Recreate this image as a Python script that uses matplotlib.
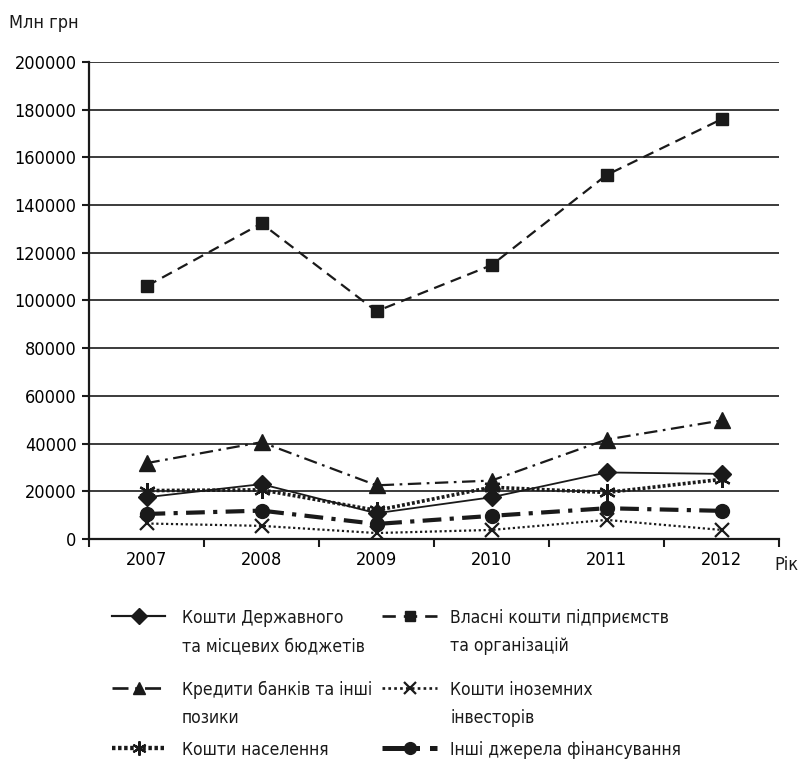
import matplotlib
matplotlib.use("Agg")
import matplotlib.pyplot as plt
from matplotlib import font_manager
from matplotlib.lines import Line2D

# data
years = ['2007', '2008', '2009', '2010', '2011', '2012']
state_budget = [17500, 23000, 10800, 17500, 27900, 27300]
own_funds = [106000, 132300, 95500, 114800, 152600, 176000]
bank_credits = [31800, 40600, 22500, 24500, 41700, 49700]
foreign_inv = [6500, 5500, 2500, 3800, 8000, 3800]
population = [20300, 20600, 12000, 21700, 19500, 25000]
other_sources = [10500, 11900, 6300, 9700, 12900, 11800]

labels = ['Кошти Державного\nта місцевих бюджетів',
          'Власні кошти підприємств\nта організацій',
          'Кредити банків та інші\nпозики',
          'Кошти іноземних\nінвесторів',
          'Кошти населення',
          'Інші джерела фінансування']


def pick_narrow_font():
    # the original uses a condensed face; look for any narrow regular font
    found = []
    for f in font_manager.fontManager.ttflist:
        fn = f.fname.lower()
        narrow = 'narrow' in fn or 'condensed' in fn or f.stretch in ('condensed', 'semi-condensed')
        if not narrow or f.style != 'normal':
            continue
        if 'semi' in fn or 'extra' in fn or 'ultra' in fn:
            continue
        if f.weight not in (400, 'normal', 'regular', 'book'):
            continue
        found.append(f)
    order = ['liberationsansnarrow', 'dejavusanscondensed', 'notosans', 'roboto', 'opensans']
    for key in order:
        for f in found:
            if key in f.fname.lower().replace('-', '').replace('_', ''):
                return font_manager.FontProperties(fname=f.fname)
    if found:
        return font_manager.FontProperties(fname=found[0].fname)
    return None


fp = pick_narrow_font()
if fp is None:
    plt.rcParams['font.family'] = ['Liberation Sans', 'DejaVu Sans']
    tick_size, text_size = 12.5, 12
else:
    tick_size, text_size = 13, 12.5


def tfont(size):
    if fp is None:
        return dict(fontsize=size)
    p = fp.copy()
    p.set_size(size)
    return dict(fontproperties=p)


ink = '#1a1a1a'
styles = [
    dict(ls='-', lw=1.3, marker='D', ms=9),
    dict(ls=(0, (5, 3)), lw=1.6, marker='s', ms=9),
    dict(ls=(0, (6, 2.5, 1.2, 2.5)), lw=1.6, marker='^', ms=11),
    dict(ls=(0, (1, 1.2)), lw=1.6, marker='x', ms=10, mew=1.6),
    dict(ls=(0, (0.8, 0.6)), lw=2.6, marker=(6, 2, 0), ms=12, mew=1.6),
    dict(ls=(0, (4.5, 2, 1, 2)), lw=3.0, marker='o', ms=10),
]
series = [state_budget, own_funds, bank_credits, foreign_inv, population, other_sources]

fig = plt.figure(figsize=(8, 7.68), dpi=100)
ax = fig.add_axes([0.11125, 0.29818, 0.8625, 0.62109])

x = list(range(len(years)))
for vals, st in zip(series, styles):
    ax.plot(x, vals, color=ink, mfc=ink, mec=ink, **st)

ax.set_ylim(0, 200000)
ax.set_xlim(-0.5, 5.5)
ax.set_yticks(range(0, 200001, 20000))
ax.set_yticklabels([str(v) for v in range(0, 200001, 20000)], **tfont(tick_size))
for v in range(20000, 200001, 20000):
    ax.axhline(v, color=ink, lw=1.2, zorder=0)

ax.set_xticks([i - 0.5 for i in range(len(years) + 1)])
ax.set_xticklabels([''] * (len(years) + 1))
ax.set_xticks(x, minor=True)
ax.set_xticklabels(years, minor=True, **tfont(tick_size))
ax.tick_params(axis='x', which='major', direction='out', length=6, width=1.5, color=ink)
ax.tick_params(axis='x', which='minor', length=0, pad=9)
ax.tick_params(axis='y', direction='out', length=5, width=1.5, color=ink, pad=4)

for s in ['top', 'right']:
    ax.spines[s].set_visible(False)
for s in ['left', 'bottom']:
    ax.spines[s].set_linewidth(1.6)
    ax.spines[s].set_color(ink)

fig.text(9 / 800, 1 - 23 / 768, 'Млн грн', va='center', ha='left', color=ink, **tfont(tick_size))
fig.text(798 / 800, 1 - 565 / 768, 'Рік', va='center', ha='right', color=ink, **tfont(tick_size))

# legend drawn by hand: 2 columns, 3 rows, handle at the first text line
H = 768.0
W = 800.0
col_handle = [(112, 165), (382, 437)]
col_text = [182, 450]
row_base = [623, 695, 755]
line_gap = 28
for i, (lab, st) in enumerate(zip(labels, styles)):
    r, c = divmod(i, 2)
    x0, x1 = col_handle[c]
    yb = row_base[r]
    yh = yb - 7
    ln = Line2D([x0 / W, x1 / W], [1 - yh / H, 1 - yh / H], transform=fig.transFigure,
                color=ink, ls=st['ls'], lw=st['lw'] * 1.2)
    fig.add_artist(ln)
    mk = Line2D([(x0 + x1) / 2 / W], [1 - yh / H], transform=fig.transFigure,
                color=ink, mfc=ink, mec=ink, marker=st['marker'], ms=st['ms'] * 0.85,
                mew=st.get('mew', 1), ls='none')
    fig.add_artist(mk)
    for j, part in enumerate(lab.split('\n')):
        fig.text(col_text[c] / W, 1 - (yb + j * line_gap) / H, part,
                 va='baseline', ha='left', color=ink, **tfont(text_size))

fig.savefig('out.png', dpi=100)
